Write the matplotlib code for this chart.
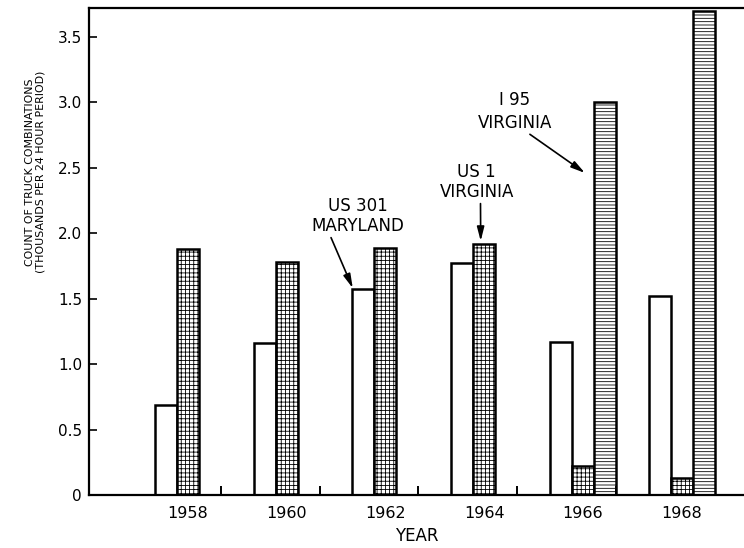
import matplotlib
matplotlib.use("Agg")
import matplotlib.pyplot as plt
from matplotlib import font_manager
import numpy as np

# Years and bar heights (thousands of truck combinations per 24 h)
years = [1958, 1960, 1962, 1964, 1966, 1968]
us301_maryland = [0.69, 1.16, 1.57, 1.77, 1.17, 1.52]
us1_virginia = [1.88, 1.78, 1.89, 1.92, 0.22, 0.13]
i95_years = [1966, 1968]
i95_virginia = [3.00, 3.70]

y_ticks = [0, 0.5, 1.0, 1.5, 2.0, 2.5, 3.0, 3.5]
y_ticklabels = ["0", "0.5", "1.0", "1.5", "2.0", "2.5", "3.0", "3.5"]

plt.rcParams["font.family"] = "DejaVu Sans"
plt.rcParams["hatch.linewidth"] = 0.6

names = {f.name for f in font_manager.fontManager.ttflist}
if "Liberation Sans Narrow" in names:
    ylab_font, ylab_size = "Liberation Sans Narrow", 9.2
else:
    ylab_font, ylab_size = "DejaVu Sans", 7.9

fig = plt.figure(figsize=(7.44, 5.48), dpi=100)
ax = fig.add_axes([0.1196, 0.0967, 0.8804, 0.8887])

w = 0.445
yrs = np.array(years)
bar_kw = dict(width=w, facecolor="white", edgecolor="black", linewidth=1.8)
ax.bar(yrs - w, us301_maryland, **bar_kw)
ax.bar(yrs, us1_virginia, hatch="++++", **bar_kw)
ax.bar(np.array(i95_years) + w, i95_virginia, hatch="-----", **bar_kw)

ax.set_xlim(1956.0, 1969.26)
ax.set_ylim(0, 3.72)

ax.set_xticks(years)
ax.set_xticklabels([str(y) for y in years], fontsize=11.5)
ax.set_xticks(yrs[:-1] + 0.67, minor=True)
ax.tick_params(axis="x", which="major", length=0, pad=8)
ax.tick_params(axis="x", which="minor", direction="in", length=6.5, width=1.4)

ax.set_yticks(y_ticks)
ax.set_yticklabels(y_ticklabels, fontsize=11)
ax.tick_params(axis="y", direction="in", length=6, width=1.2, pad=5)

for side in ["left", "bottom", "top"]:
    ax.spines[side].set_linewidth(1.6)
ax.spines["right"].set_visible(False)

ax.set_xlabel("YEAR", fontsize=12, labelpad=4)
ax.text(-0.082, 0.663,
        "COUNT OF TRUCK COMBINATIONS\n(THOUSANDS PER 24 HOUR PERIOD)",
        transform=ax.transAxes, rotation=90, ha="center", va="center",
        multialignment="center", fontsize=ylab_size, family=ylab_font,
        linespacing=1.1)

arrow = dict(arrowstyle="-|>,head_length=0.7,head_width=0.18",
             color="black", lw=1.2, shrinkA=0, shrinkB=0)

ax.annotate("US 301\nMARYLAND", xy=(1961.34, 1.58), xytext=(1961.44, 2.13),
            ha="center", va="center", fontsize=12, linespacing=1.1,
            arrowprops=dict(arrow, relpos=(0.2, 0.0)))
ax.annotate("US 1\nVIRGINIA", xy=(1963.93, 1.94), xytext=(1963.85, 2.39),
            ha="center", va="center", fontsize=12, linespacing=1.1,
            arrowprops=dict(arrow, relpos=(0.55, 0.0)))
ax.annotate("I 95\nVIRGINIA", xy=(1966.04, 2.46), xytext=(1964.62, 2.93),
            ha="center", va="center", fontsize=12, linespacing=1.3,
            arrowprops=dict(arrow, relpos=(0.65, 0.0)))

fig.savefig("out.png", dpi=100)
